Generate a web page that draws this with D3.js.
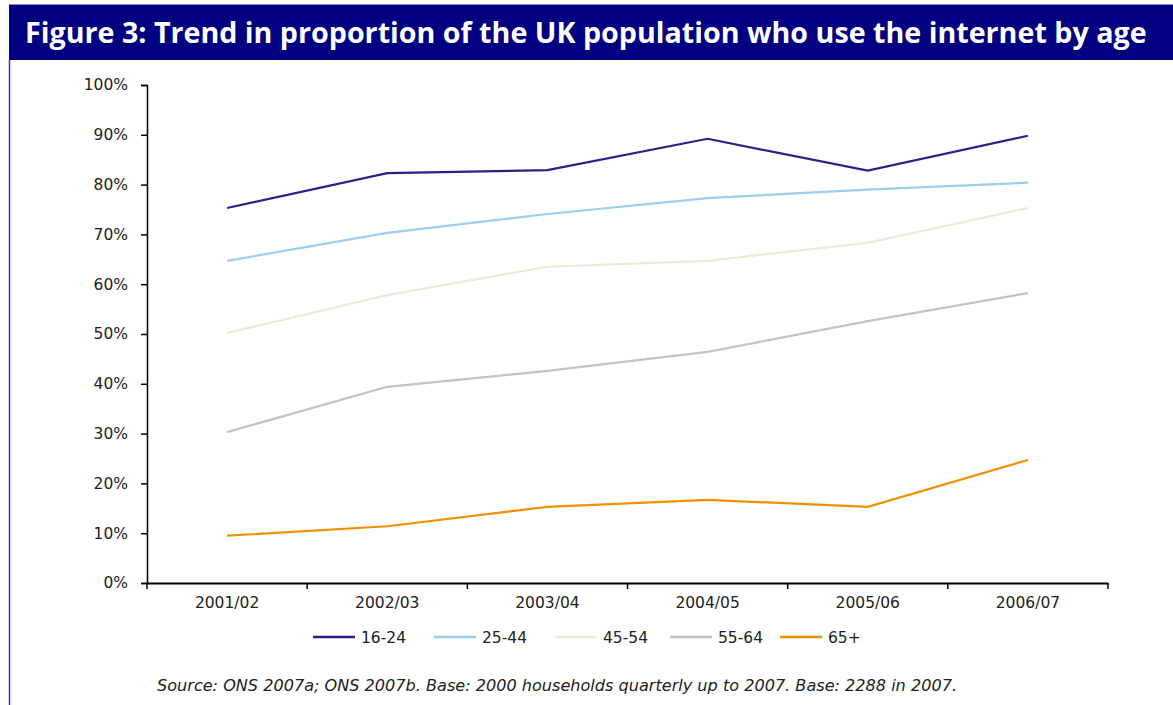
<!DOCTYPE html>
<html><head><meta charset="utf-8">
<script src="https://cdn.jsdelivr.net/npm/d3@7"></script>
<style>html,body{margin:0;padding:0;background:#fff;}svg{display:block;}</style>
</head><body>
<svg id="c" width="1173" height="705"></svg>
<script>
const categories = ["2001/02","2002/03","2003/04","2004/05","2005/06","2006/07"];
const seriesNames = ["16-24","25-44","45-54","55-64","65+"];
const v1624 = [75.3, 82.3, 82.9, 89.2, 82.8, 89.8];
const v2544 = [64.7, 70.3, 74.1, 77.3, 79.0, 80.4];
const v4554 = [50.2, 57.8, 63.5, 64.7, 68.3, 75.3];
const v5564 = [30.3, 39.4, 42.6, 46.4, 52.6, 58.2];
const v65 = [9.5, 11.4, 15.3, 16.7, 15.3, 24.7];
const yTicks = [0,10,20,30,40,50,60,70,80,90,100];
const colors = ["#2e1e86","#9dcdf0","#efe8d5","#c3c3c3","#f39000"];
const title = "Figure 3: Trend in proportion of the UK population who use the internet by age";
const source = "Source: ONS 2007a; ONS 2007b. Base: 2000 households quarterly up to 2007. Base: 2288 in 2007.";

const series = [v1624, v2544, v4554, v5564, v65];
const svg = d3.select("#c");
const font = "'Open Sans', 'Noto Sans', sans-serif";
const tfont = "'DejaVu Sans', 'Open Sans', sans-serif";
const fs = 15.5;

// frame
svg.append("line").attr("x1",9).attr("x2",1173).attr("y1",4.5).attr("y2",4.5).attr("stroke","#8a8ac8").attr("stroke-width",1);
svg.append("rect").attr("x",9).attr("y",5).attr("width",1164).attr("height",55).attr("fill","#000080");
svg.append("line").attr("x1",9.5).attr("x2",9.5).attr("y1",60).attr("y2",705).attr("stroke","#3535b8").attr("stroke-width",1.5);
const tt = svg.append("text").attr("x",25).attr("y",43).attr("fill","#fff").attr("font-family",font)
  .attr("font-weight","bold").attr("font-size",31).text(title);
const tw = tt.node().getComputedTextLength();
if (tw > 1122) tt.attr("font-size", 31*1122/tw);

const x = d3.scaleBand().domain(categories).range([147,1108]);
const y = d3.scaleLinear().domain([0,100]).range([583,85]);

// y axis
const ya = svg.append("g").attr("transform","translate(147,0)")
  .call(d3.axisLeft(y).tickValues(yTicks).tickSize(6).tickFormat(d=>d+"%"));
ya.attr("font-size",null).attr("font-family",null);
ya.select(".domain").attr("stroke","#000").attr("stroke-width",1.5);
ya.selectAll(".tick line").attr("stroke","#000").attr("stroke-width",1.5);
ya.selectAll(".tick text").attr("font-family",tfont).attr("font-size",fs).attr("fill","#222").attr("x",-19);

// x axis
const xa = svg.append("g").attr("transform","translate(0,583)")
  .call(d3.axisBottom(x).tickSize(0).tickSizeOuter(0));
xa.attr("font-size",null).attr("font-family",null);
xa.select(".domain").attr("stroke","#000").attr("stroke-width",2);
xa.selectAll(".tick text").attr("font-family",tfont).attr("font-size",fs).attr("fill","#222").attr("dy","1.45em");
const bounds = categories.map(c=>x(c)).concat([x.range()[1]]);
xa.selectAll(".bnd").data(bounds).enter().append("line").attr("class","bnd")
  .attr("x1",d=>d).attr("x2",d=>d).attr("y1",0).attr("y2",6).attr("stroke","#000").attr("stroke-width",1.5);

// lines
const line = d3.line().x((d,i)=>x(categories[i])+x.bandwidth()/2).y(d=>y(d));
series.forEach((s,k)=>{
  svg.append("path").datum(s).attr("d",line).attr("fill","none").attr("stroke",colors[k]).attr("stroke-width",2.2);
});

// legend
const legX = [313,434,555,670,780];
const leg = svg.append("g").attr("transform","translate(0,637)");
seriesNames.forEach((n,k)=>{
  leg.append("line").attr("x1",legX[k]).attr("x2",legX[k]+42).attr("y1",0).attr("y2",0).attr("stroke",colors[k]).attr("stroke-width",2.5);
  leg.append("text").attr("x",legX[k]+48).attr("y",6).attr("font-family",tfont).attr("font-size",fs).attr("fill","#222").text(n);
});

svg.append("text").attr("x",157).attr("y",691).attr("font-family",tfont).attr("font-style","italic")
  .attr("font-size",15).attr("fill","#222").attr("textLength",800).attr("lengthAdjust","spacingAndGlyphs").text(source);
</script>
</body></html>
